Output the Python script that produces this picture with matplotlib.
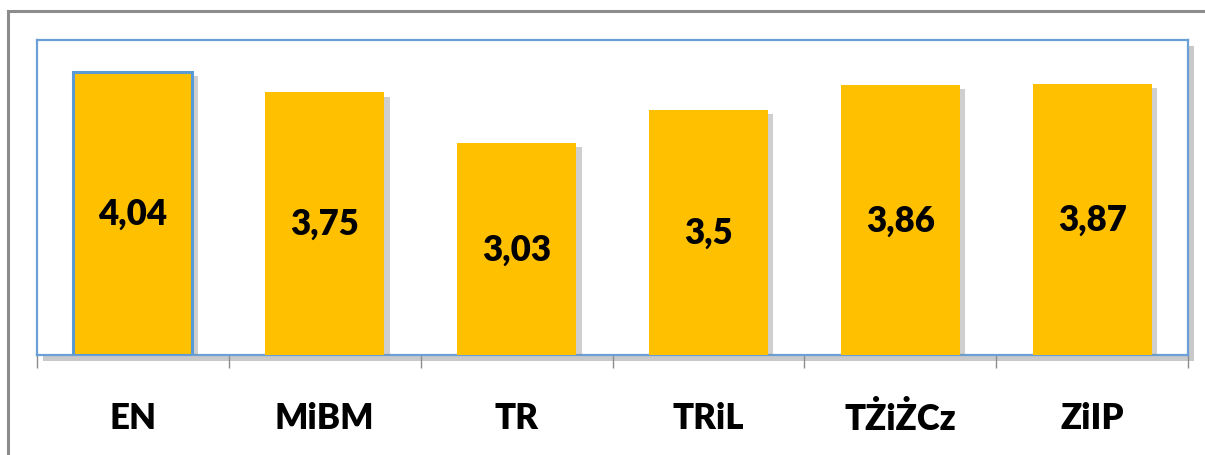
import matplotlib.pyplot as plt
import matplotlib.patheffects as pe
from matplotlib.patches import Rectangle

categories = ['EN', 'MiBM', 'TR', 'TRiL', 'TŻiŻCz', 'ZiIP']
values = [4.04, 3.75, 3.03, 3.5, 3.86, 3.87]
value_labels = ['4,04', '3,75', '3,03', '3,5', '3,86', '3,87']

plt.rcParams['font.family'] = ['Lato', 'DejaVu Sans']

fig = plt.figure(figsize=(12.05, 4.56), dpi=100)

# outer chart border (only top and left visible)
fig.patches.append(Rectangle((0.007, -0.1), 1.1, 1.0737, transform=fig.transFigure,
                             fill=False, edgecolor='#8c8c8c', linewidth=2.2, zorder=0))

ax = fig.add_axes([0.0307, 0.2193, 0.9552, 0.6908])
ax.patch.set_facecolor('white')
ax.patch.set_path_effects([pe.SimplePatchShadow(offset=(4, -4), shadow_rgbFace='#888888', alpha=0.45),
                           pe.Normal()])
for s in ax.spines.values():
    s.set_color('#6a9fd8')
    s.set_linewidth(1.6)

x = range(len(categories))
bars = ax.bar(x, values, width=0.62, color='#ffc000', zorder=3)
bars[0].set_edgecolor('#5b9bd5')
bars[0].set_linewidth(2.2)
for b in bars:
    b.set_path_effects([pe.SimplePatchShadow(offset=(4, -3), shadow_rgbFace='#888888', alpha=0.4),
                        pe.Normal()])

for xi, v, lab in zip(x, values, value_labels):
    ax.text(xi, v / 2, lab, ha='center', va='center', fontsize=25, fontweight='heavy',
            color='black', zorder=4)

ax.set_xlim(-0.5, len(categories) - 0.5)
ax.set_ylim(0, 4.5)
ax.set_yticks([])
ax.set_xticks(list(x))
ax.set_xticklabels(categories, fontsize=25, fontweight='heavy')
ax.tick_params(axis='x', which='major', length=0, pad=33)
ax.set_xticks([i - 0.5 for i in range(len(categories) + 1)], minor=True)
ax.tick_params(axis='x', which='minor', length=9, width=1, color='#8c8c8c', direction='out')

fig.savefig('out.png', dpi=100)
